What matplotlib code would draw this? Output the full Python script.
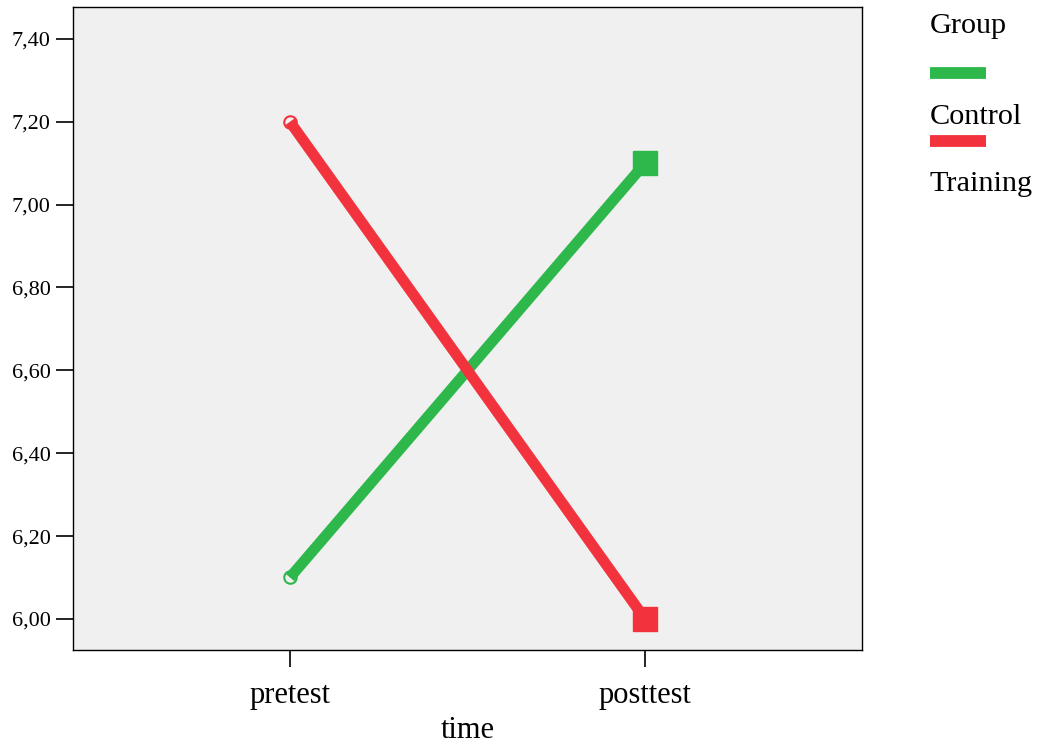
import matplotlib
matplotlib.use("Agg")
import matplotlib.pyplot as plt
from matplotlib.lines import Line2D
from matplotlib.ticker import FuncFormatter

plt.rcParams['font.family'] = ['Liberation Serif', 'DejaVu Serif']

categories = ["pretest", "posttest"]
groups = ["Control", "Training"]
control = [6.10, 7.10]
training = [7.20, 6.00]
yticks = [6.00, 6.20, 6.40, 6.60, 6.80, 7.00, 7.20, 7.40]

green = "#2EB84C"
red = "#F2333D"
bg = "#F0F0F0"

W, H = 1042, 746
fig = plt.figure(figsize=(W / 100, H / 100), dpi=100)
ax = fig.add_axes([73 / W, 1 - 650 / H, (862 - 73) / W, (650 - 7) / H])
ax.set_facecolor(bg)

x = list(range(len(categories)))
for vals, col in [(control, green), (training, red)]:
    ax.plot(x, vals, color=col, lw=7.8, solid_capstyle='butt', zorder=3)
    ax.plot(x[0], vals[0], marker='o', ms=9, mfc=bg, mec=col, mew=1.5, zorder=2, ls='none')
    ax.plot(x[1], vals[1], marker='s', ms=17, mfc=col, mec=col, zorder=4, ls='none')

ax.set_xlim(-0.611, 1.611)
ax.set_ylim(5.925, 7.477)
ax.set_xticks(x)
ax.set_xticklabels(categories, fontsize=22)
ax.set_yticks(yticks)
ax.yaxis.set_major_formatter(FuncFormatter(lambda v, p: f"{v:.2f}".replace('.', ',')))
ax.tick_params(axis='y', direction='out', length=12, width=1.2, pad=4, labelsize=16)
ax.tick_params(axis='x', direction='out', length=12, width=1.2, pad=10)
ax.set_xlabel("time", fontsize=22, labelpad=5)
for s in ax.spines.values():
    s.set_linewidth(1.0)

# legend (SPSS style)
def fx(px):
    return px / W

def fy(py):
    return 1 - py / H

fs_leg = 21.8
fig.text(fx(930), fy(33), "Group", fontsize=fs_leg, va='baseline', ha='left')
fig.add_artist(Line2D([fx(930), fx(986)], [fy(73), fy(73)], color=green, lw=8.5,
                      solid_capstyle='butt', transform=fig.transFigure))
fig.text(fx(930), fy(124), groups[0], fontsize=fs_leg, va='baseline', ha='left')
fig.add_artist(Line2D([fx(930), fx(986)], [fy(141), fy(141)], color=red, lw=8.5,
                      solid_capstyle='butt', transform=fig.transFigure))
fig.text(fx(930), fy(191), groups[1], fontsize=fs_leg, va='baseline', ha='left')

fig.savefig("out.png", dpi=100)
